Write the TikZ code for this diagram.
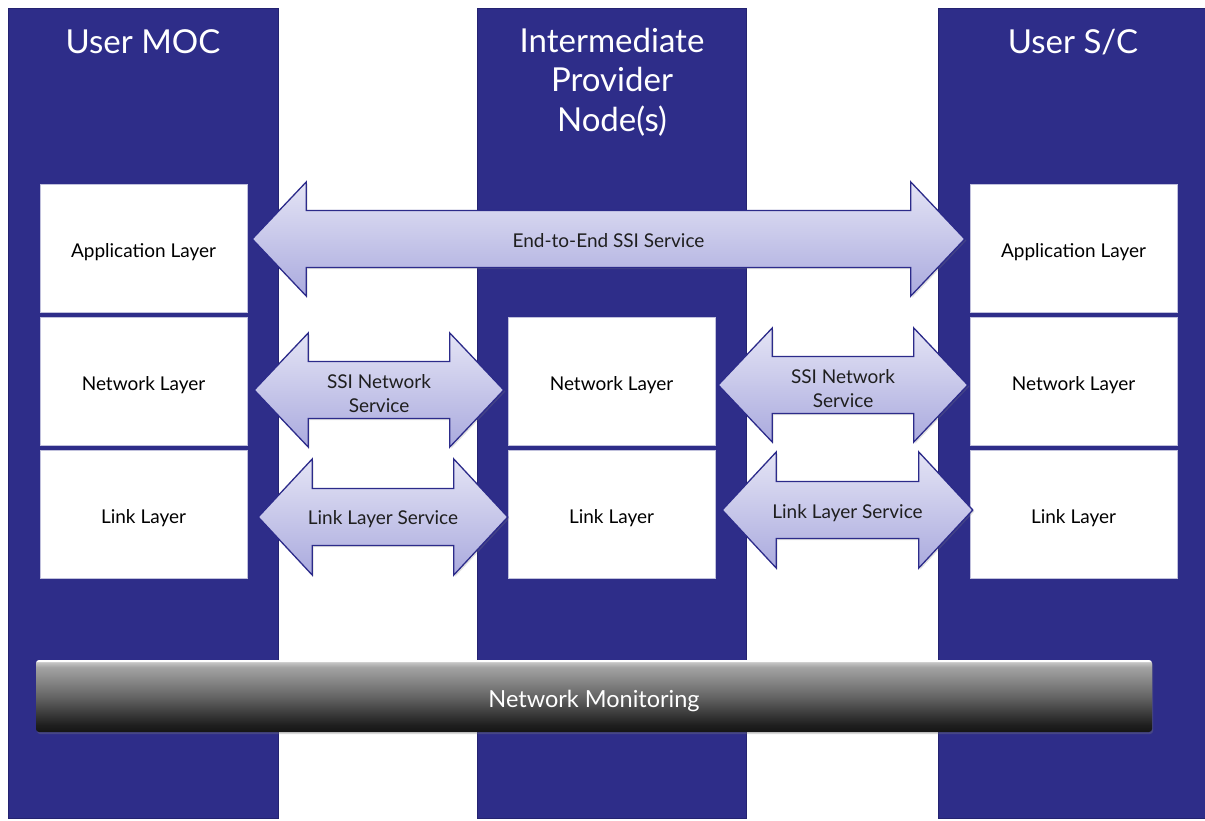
\documentclass[tikz,border=0pt]{standalone}
\usepackage{fontspec}
\setmainfont{Lato}
\usetikzlibrary{calc,shadows}

\definecolor{colblue}{RGB}{46,45,137}
\definecolor{coledge}{RGB}{36,35,112}
\definecolor{arrtop}{RGB}{228,228,245}
\definecolor{arrbot}{RGB}{170,170,222}
\definecolor{arredge}{RGB}{44,43,138}

% glossy dark bar: bright rim on top, grey to black downwards
\pgfdeclareverticalshading{monitorbar}{100bp}{%
  color(0bp)=(black!92); color(25bp)=(black!92); color(30bp)=(black!88);
  color(50bp)=(black!60); color(70bp)=(black!36); color(73.5bp)=(black!22);
  color(74.3bp)=(white); color(75bp)=(white); color(100bp)=(white)}

\tikzset{
  column/.style={fill=colblue, draw=coledge, line width=1.2pt},
  layerbox/.style={fill=white, draw=colblue!30, line width=0.4pt,
    minimum width=207pt, minimum height=128pt, inner sep=0pt,
    font=\fontsize{19}{23}\selectfont},
  layertext/.style={font=\fontsize{19}{23}\selectfont},
  coltitle/.style={text=white, align=center,
    font=\fontsize{33}{39.5}\selectfont},
  blockarrow/.style={top color=arrtop, bottom color=arrbot, draw=arredge,
    line width=1.3pt, line join=miter,
    drop shadow={opacity=0.25, shadow xshift=1.5pt, shadow yshift=-1.5pt}},
  arrlabel/.style={align=center, text=black!88,
    font=\fontsize{19}{24}\selectfont},
  monbar/.style={shading=monitorbar, rounded corners=3pt,
    minimum width=1116pt, minimum height=72pt, inner sep=0pt,
    drop shadow={opacity=0.3, shadow xshift=1pt, shadow yshift=-2pt}},
  montext/.style={text=white, font=\fontsize{23.5}{26}\selectfont}
}

% double-headed block arrow between two tips on the same level:
% #1,#2 tips, #3 head half-height, #4 shaft half-height, #5 head length
\newcommand\dblarrow[5]{%
  \path[blockarrow] (#1) -- ($(#1)+(#5,-#3)$) -- ($(#1)+(#5,-#4)$)
    -- ($(#2)+(-#5,-#4)$) -- ($(#2)+(-#5,-#3)$) -- (#2)
    -- ($(#2)+(-#5,#3)$) -- ($(#2)+(-#5,#4)$)
    -- ($(#1)+(#5,#4)$) -- ($(#1)+(#5,#3)$) -- cycle;}

\begin{document}
\begin{tikzpicture}[x=1pt,y=-1pt]
\clip (0,0) rectangle (1205,820);
\fill[white] (0,0) rectangle (1205,820);

% the three stacks
\node[column, anchor=north west, minimum width=270pt, minimum height=810pt, inner sep=0pt] (colL) at (8,8) {};
\node[column, anchor=north west, minimum width=269pt, minimum height=810pt, inner sep=0pt] (colM) at (477,8) {};
\node[column, anchor=north west, minimum width=280pt, minimum height=810pt, inner sep=0pt] (colR) at (938,8) {};

\node[coltitle] (tL) at (143,42) {User MOC};
\node[coltitle] (tM) at (612,82) {Intermediate\\Provider\\Node(s)};
\node[coltitle] (tR) at (1073,42) {User S/C};

% protocol layers
\node[layerbox] (appL)  at (143.5,248) {};
\node[layerbox] (netL)  at (143.5,381) {};
\node[layerbox] (linkL) at (143.5,514) {};

\node[layerbox] (netM)  at (611.5,381) {};
\node[layerbox] (linkM) at (611.5,514) {};

\node[layerbox] (appR)  at (1073.5,248) {};
\node[layerbox] (netR)  at (1073.5,381) {};
\node[layerbox] (linkR) at (1073.5,514) {};

\foreach \b/\t in {appL/Application Layer, netL/Network Layer, linkL/Link Layer,
                   netM/Network Layer, linkM/Link Layer,
                   appR/Application Layer, netR/Network Layer, linkR/Link Layer}
  \node[layertext] (\b-txt) at ($(\b.center)+(0,4)$) {\t};

% arrow tips
\coordinate (eL)  at ($(appL.east)+(5,-9)$);
\coordinate (eR)  at ($(appR.west)+(-5,-9)$);
\coordinate (n1L) at ($(netL.east)+(7,9)$);
\coordinate (n1R) at ($(netM.west)+(-4,9)$);
\coordinate (n2L) at ($(netM.east)+(3,4)$);
\coordinate (n2R) at ($(netR.west)+(-2,4)$);
\coordinate (k1L) at ($(linkL.east)+(11,3)$);
\coordinate (k1R) at ($(linkM.west)+(0,3)$);
\coordinate (k2L) at ($(linkM.east)+(7,-4)$);
\coordinate (k2R) at ($(linkR.west)+(3,-4)$);

% services
\dblarrow{eL}{eR}{57}{28.5}{54}
\node[arrlabel] (lblE) at ($(eL)!0.5!(eR)+(0,2)$) {End-to-End SSI Service};

\dblarrow{n1L}{n1R}{57}{28.5}{54}
\node[arrlabel] (lblN1) at ($(n1L)!0.5!(n1R)+(0,4)$) {SSI Network\\Service};

\dblarrow{n2L}{n2R}{57}{28.5}{54}
\node[arrlabel] (lblN2) at ($(n2L)!0.5!(n2R)+(0,4)$) {SSI Network\\Service};

\dblarrow{k1L}{k1R}{58}{28.5}{54}
\node[arrlabel] (lblK1) at ($(k1L)!0.5!(k1R)+(0,2)$) {Link Layer Service};

\dblarrow{k2L}{k2R}{58}{28.5}{54}
\node[arrlabel] (lblK2) at ($(k2L)!0.5!(k2R)+(0,3)$) {Link Layer Service};

% monitoring spans all stacks
\node[monbar] (mon) at (594,696) {};
\node[montext] (mon-txt) at ($(mon.center)+(0,5)$) {Network Monitoring};
\end{tikzpicture}
\end{document}
